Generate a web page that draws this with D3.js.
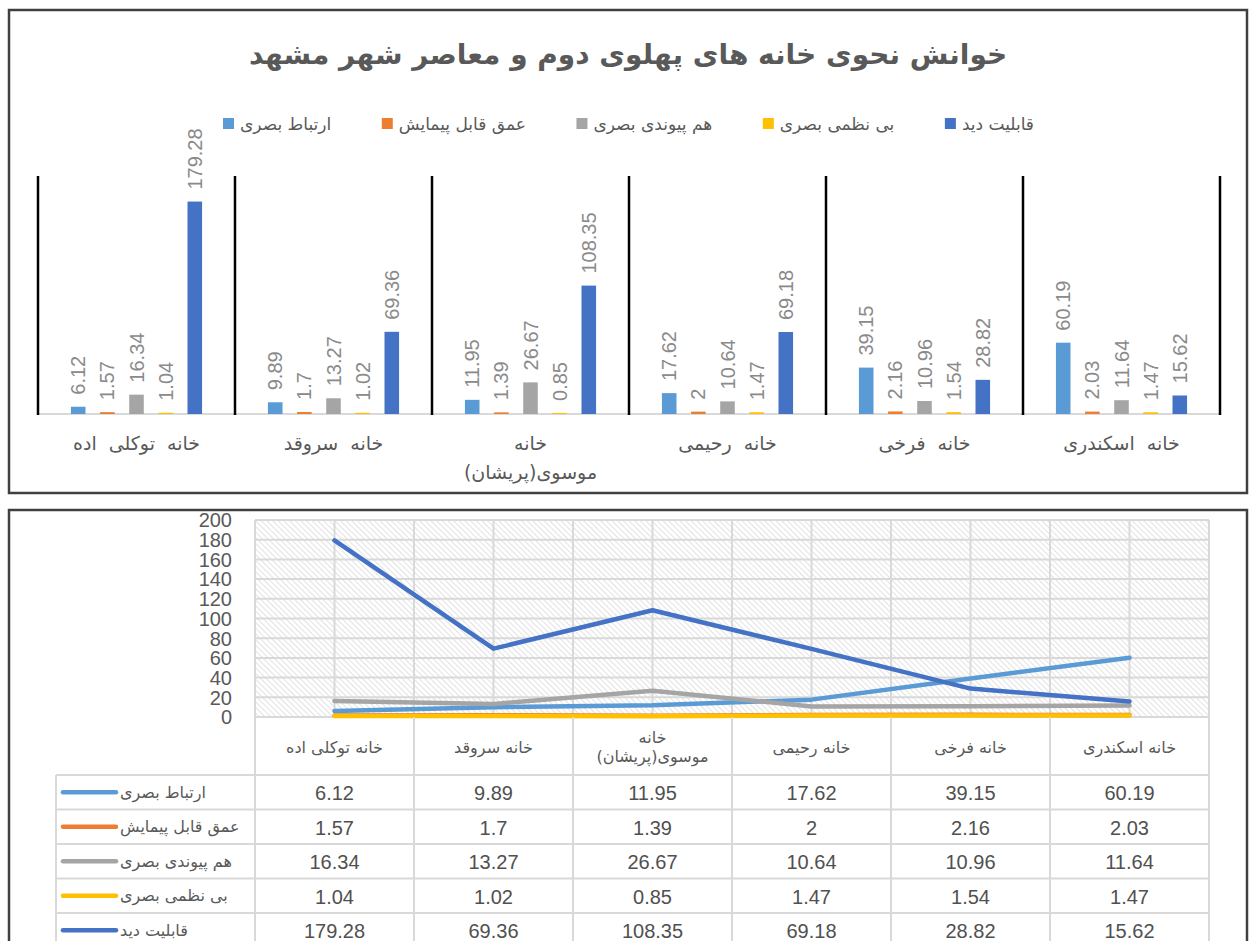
<!DOCTYPE html>
<html>
<head>
<meta charset="utf-8">
<script src="https://cdn.jsdelivr.net/npm/d3@7"></script>
<style>
  body { margin: 0; background: #fff; }
  svg text { font-family: "DejaVu Sans", sans-serif; }
  .num { font-family: "Liberation Sans", Arial, sans-serif; }
</style>
</head>
<body>
<svg id="chart" width="1250" height="941"></svg>
<script>
// chart data
const categories = ["خانه توکلی اده", "خانه سروقد", "خانه\nموسوی(پریشان)", "خانه رحیمی", "خانه فرخی", "خانه اسکندری"];
const seriesNames = ["ارتباط بصری", "عمق قابل پیمایش", "هم پیوندی بصری", "بی نظمی بصری", "قابلیت دید"];
const ertebatBasari = [6.12, 9.89, 11.95, 17.62, 39.15, 60.19];
const omghGhabelPeymayesh = [1.57, 1.7, 1.39, 2, 2.16, 2.03];
const hamPeyvandiBasari = [16.34, 13.27, 26.67, 10.64, 10.96, 11.64];
const biNazmiBasari = [1.04, 1.02, 0.85, 1.47, 1.54, 1.47];
const ghabeliatDid = [179.28, 69.36, 108.35, 69.18, 28.82, 15.62];
const seriesColors = ["#5B9BD5", "#ED7D31", "#A5A5A5", "#FFC000", "#4472C4"];
const title = "خوانش نحوی خانه های پهلوی دوم و معاصر شهر مشهد";

const seriesValues = [ertebatBasari, omghGhabelPeymayesh, hamPeyvandiBasari, biNazmiBasari, ghabeliatDid];
const series = seriesNames.map((name, i) => ({ name, values: seriesValues[i], color: seriesColors[i] }));

const svg = d3.select("#chart");
const textGray = "#595959";

// ---------- top panel: grouped bars ----------
svg.append("rect").attr("x", 9).attr("y", 10).attr("width", 1238).attr("height", 483)
  .attr("fill", "none").attr("stroke", "#404040").attr("stroke-width", 2.5);

svg.append("text").attr("x", 628).attr("y", 54)
  .attr("text-anchor", "middle").attr("dominant-baseline", "central")
  .style("direction", "rtl").style("font-weight", "bold").style("font-size", "28px")
  .attr("fill", textGray).text(title);

// legend
const legend = svg.append("g");
const legItems = legend.selectAll("g").data(series).enter().append("g");
legItems.append("rect").attr("width", 11).attr("height", 11).attr("y", 118).attr("fill", d => d.color);
legItems.append("text").attr("y", 123.5).attr("dominant-baseline", "central")
  .style("direction", "rtl").attr("text-anchor", "end")
  .style("font-size", "17px").attr("fill", textGray).text(d => d.name);
{
  const widths = legItems.nodes().map(n => 17 + n.querySelector("text").getComputedTextLength());
  const span0 = 223, span1 = 1034;
  const gap = (span1 - span0 - d3.sum(widths)) / (widths.length - 1);
  let cx = span0;
  legItems.each(function(d, i) {
    d3.select(this).select("rect").attr("x", cx);
    d3.select(this).select("text").attr("x", cx + 17);
    cx += widths[i] + gap;
  });
}

const x0 = d3.scaleBand().domain(categories).range([38, 1220]);
const x1 = d3.scaleBand().domain(seriesNames).range([0, x0.bandwidth()])
  .paddingInner(0.5).paddingOuter(1.13);
const yTop = d3.scaleLinear().domain([0, 200]).range([414, 177]);

// baseline
svg.append("line").attr("x1", 38).attr("x2", 1220).attr("y1", yTop(0)).attr("y2", yTop(0))
  .attr("stroke", "#d9d9d9").attr("stroke-width", 2);

// group separators
svg.selectAll(".sep").data(categories.concat([null])).enter().append("line")
  .attr("x1", d => d === null ? x0.range()[1] : x0(d))
  .attr("x2", d => d === null ? x0.range()[1] : x0(d))
  .attr("y1", 176).attr("y2", yTop(0) + 1)
  .attr("stroke", "#000").attr("stroke-width", 2.5);

const groups = svg.selectAll(".grp").data(categories).enter().append("g")
  .attr("transform", d => `translate(${x0(d)},0)`);

groups.each(function(cat, j) {
  const g = d3.select(this);
  series.forEach(s => {
    const v = s.values[j];
    const bx = x1(s.name);
    g.append("rect").attr("x", bx).attr("width", x1.bandwidth())
      .attr("y", yTop(v)).attr("height", yTop(0) - yTop(v)).attr("fill", s.color);
    const cx = bx + x1.bandwidth() / 2, cy = yTop(v) - 12;
    g.append("text").attr("class", "num")
      .attr("transform", `translate(${cx},${cy}) rotate(-90)`)
      .attr("dominant-baseline", "central").attr("text-anchor", "start")
      .style("font-size", "20px").attr("fill", "#8a8a8a").text(v);
  });
  const lines = cat.split("\n");
  lines.forEach((ln, k) => {
    g.append("text").attr("x", x0.bandwidth() / 2).attr("y", 443 + k * 29)
      .attr("text-anchor", "middle").attr("dominant-baseline", "central")
      .style("direction", "rtl").style("font-size", "19px").style("word-spacing", "6px")
      .attr("fill", textGray).text(ln);
  });
});

// ---------- bottom panel: lines with data table ----------
svg.append("rect").attr("x", 9).attr("y", 510).attr("width", 1238).attr("height", 460)
  .attr("fill", "none").attr("stroke", "#404040").attr("stroke-width", 2.5);

const defs = svg.append("defs");
const pat = defs.append("pattern").attr("id", "hatch").attr("patternUnits", "userSpaceOnUse")
  .attr("width", 4).attr("height", 4).attr("patternTransform", "rotate(-45)");
pat.append("line").attr("x1", 0).attr("y1", 0).attr("x2", 0).attr("y2", 4)
  .attr("stroke", "#cfcfcf").attr("stroke-width", 1.2);

const xB = d3.scaleBand().domain(categories).range([255, 1209]);
const yB = d3.scaleLinear().domain([0, 200]).range([717, 520]);
const bw = xB.bandwidth();

svg.append("rect").attr("x", 255).attr("y", 520).attr("width", 1209 - 255).attr("height", 717 - 520)
  .attr("fill", "url(#hatch)");

// grid
const yTicks = yB.ticks(10);
svg.selectAll(".hg").data(yTicks).enter().append("line")
  .attr("x1", 255).attr("x2", 1209).attr("y1", d => yB(d)).attr("y2", d => yB(d))
  .attr("stroke", "#d9d9d9").attr("stroke-width", 2);
const vgrid = [];
categories.forEach(c => { vgrid.push(xB(c)); vgrid.push(xB(c) + bw / 2); });
vgrid.push(1209);
svg.selectAll(".vg").data(vgrid).enter().append("line")
  .attr("x1", d => d).attr("x2", d => d).attr("y1", 520).attr("y2", 717)
  .attr("stroke", "#d9d9d9").attr("stroke-width", 2);

// y axis labels
const yAxis = svg.append("g").attr("transform", "translate(236,0)")
  .call(d3.axisLeft(yB).tickValues(yTicks).tickSize(0).tickPadding(4));
yAxis.select(".domain").remove();
yAxis.selectAll("text").attr("class", "num").style("font-size", "20px").attr("fill", textGray)
  .attr("dy", "0.34em");

// lines
const lineGen = d3.line().x((d, j) => xB(categories[j]) + bw / 2).y(d => yB(d));
svg.selectAll(".ln").data(series).enter().append("path")
  .attr("d", d => lineGen(d.values)).attr("fill", "none")
  .attr("stroke", d => d.color).attr("stroke-width", 4.5)
  .attr("stroke-linecap", "round").attr("stroke-linejoin", "round");

// table
const headTop = 717, headBot = 775, rowH = 34.5;
const tableLeft = 56, tableRight = 1209;
const rowYs = d3.range(series.length + 1).map(k => headBot + k * rowH);
svg.selectAll(".tv").data(vgrid.filter((d, i) => i % 2 === 0)).enter().append("line")
  .attr("x1", d => d).attr("x2", d => d).attr("y1", headTop).attr("y2", 945)
  .attr("stroke", "#d9d9d9").attr("stroke-width", 2);
svg.append("line").attr("x1", tableLeft).attr("x2", tableLeft).attr("y1", headBot).attr("y2", 945)
  .attr("stroke", "#d9d9d9").attr("stroke-width", 2);
svg.selectAll(".th").data(rowYs).enter().append("line")
  .attr("x1", tableLeft).attr("x2", tableRight).attr("y1", d => d).attr("y2", d => d)
  .attr("stroke", "#d9d9d9").attr("stroke-width", 2);

categories.forEach(c => {
  const lines = c.split("\n");
  const midY = (headTop + headBot) / 2 + 1;
  lines.forEach((ln, k) => {
    svg.append("text").attr("x", xB(c) + bw / 2)
      .attr("y", midY + (k - (lines.length - 1) / 2) * 19)
      .attr("text-anchor", "middle").attr("dominant-baseline", "central")
      .style("direction", "rtl").style("font-size", "16px").attr("fill", textGray).text(ln);
  });
});

series.forEach((s, i) => {
  const cy = headBot + i * rowH + rowH / 2;
  svg.append("line").attr("x1", 63).attr("x2", 116).attr("y1", cy).attr("y2", cy)
    .attr("stroke", s.color).attr("stroke-width", 4.5).attr("stroke-linecap", "round");
  svg.append("text").attr("x", 120).attr("y", cy).attr("dominant-baseline", "central")
    .style("direction", "rtl").attr("text-anchor", "end")
    .style("font-size", "16px").attr("fill", textGray).text(s.name);
  s.values.forEach((v, j) => {
    svg.append("text").attr("class", "num").attr("x", xB(categories[j]) + bw / 2).attr("y", cy + 1)
      .attr("text-anchor", "middle").attr("dominant-baseline", "central")
      .style("font-size", "20px").attr("fill", "#505050").text(v);
  });
});
</script>
</body>
</html>
